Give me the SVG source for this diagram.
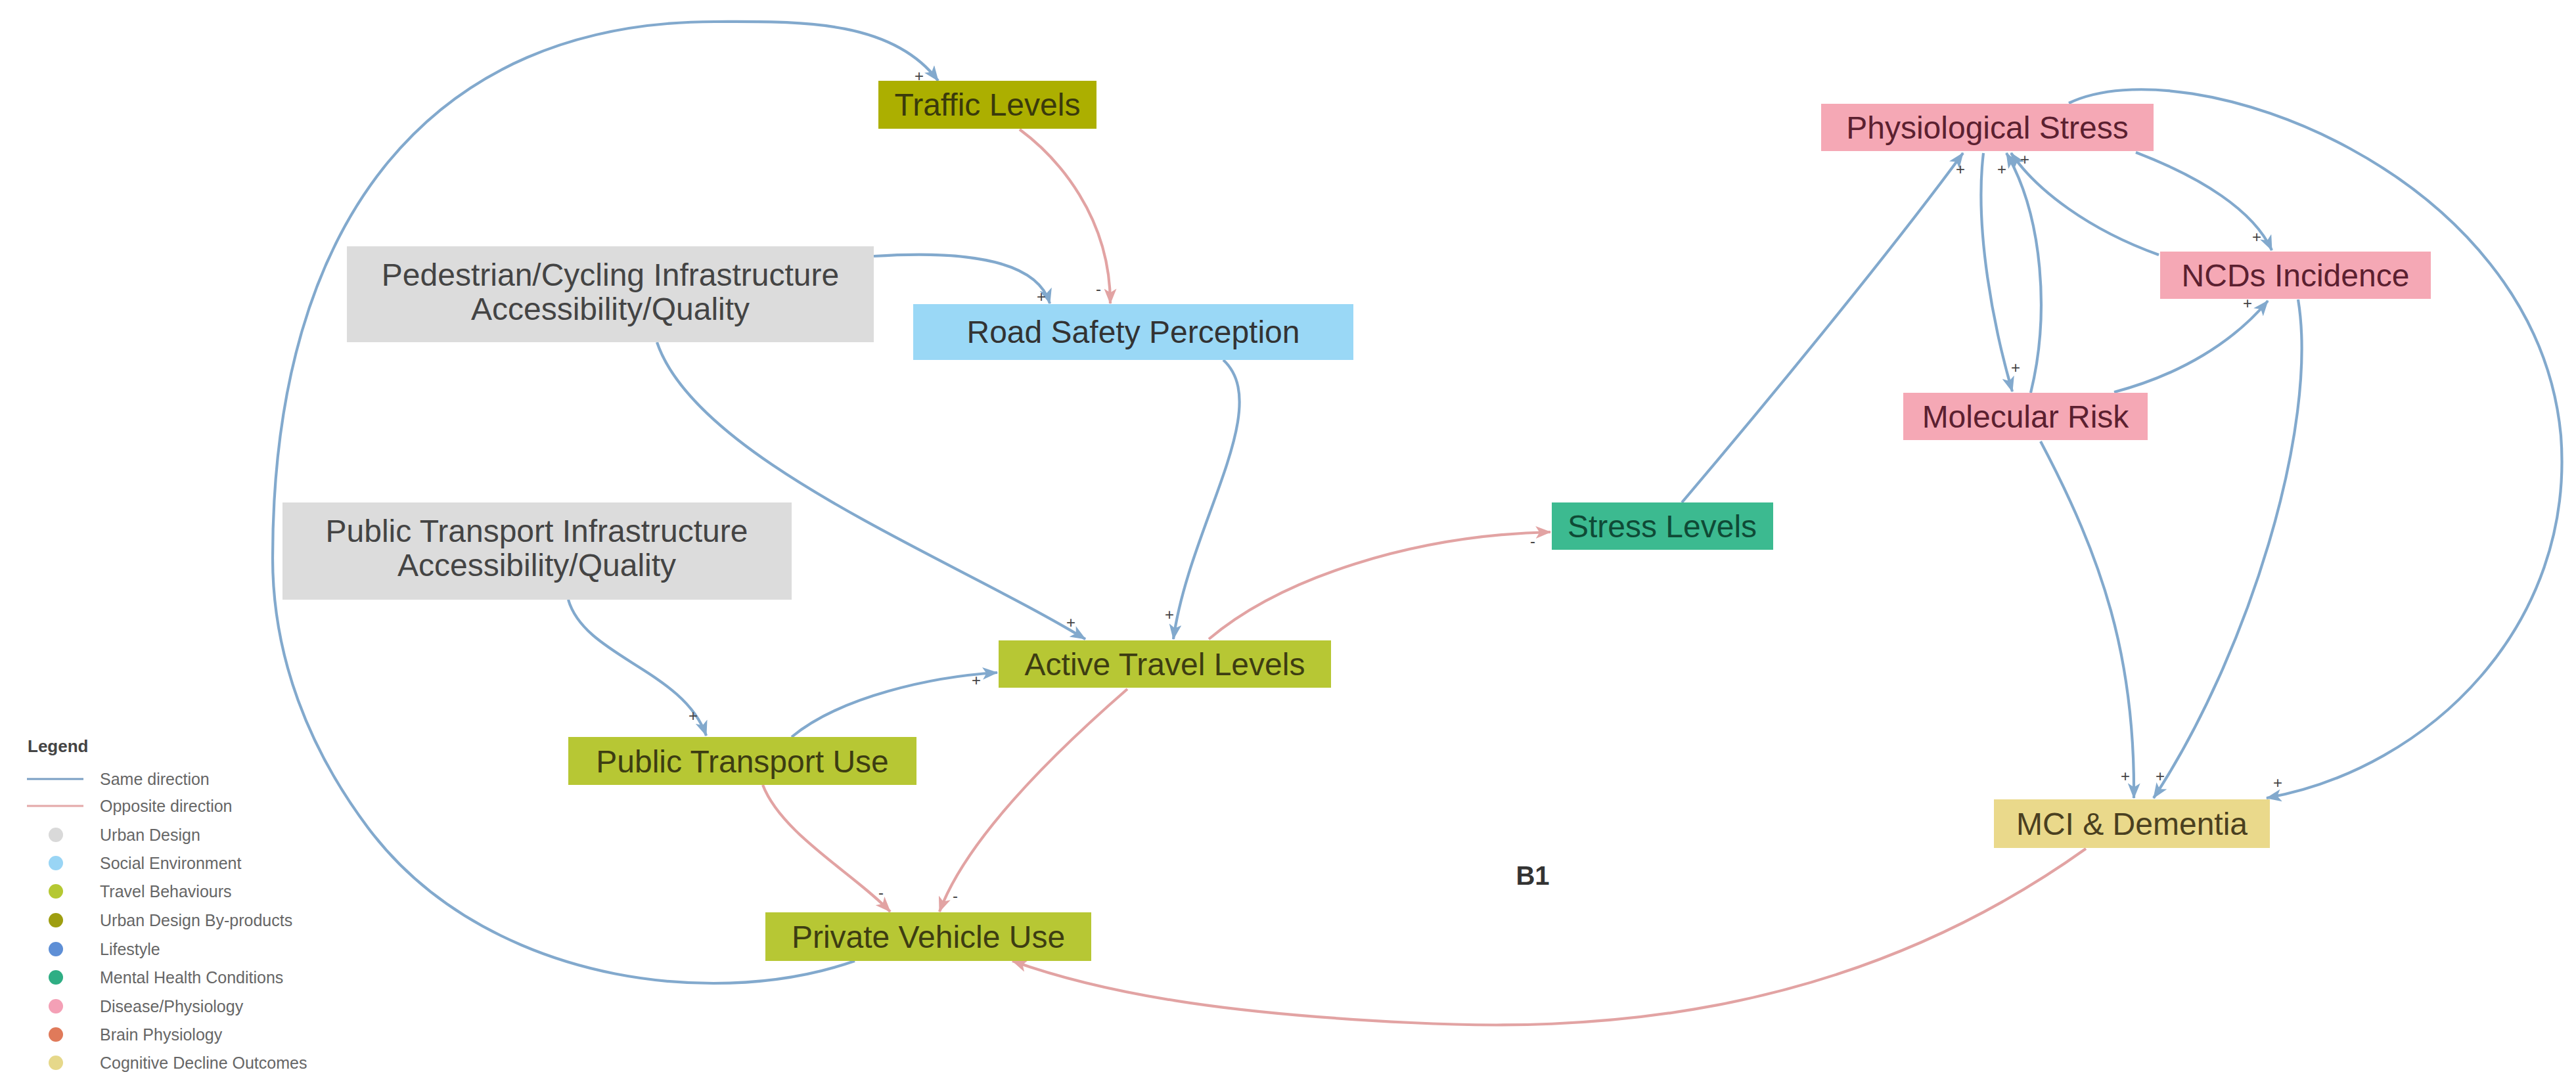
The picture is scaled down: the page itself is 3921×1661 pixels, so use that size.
<svg xmlns="http://www.w3.org/2000/svg" width="3921" height="1661" viewBox="0 0 3921 1661">
<style>
.nt{font-family:"Liberation Sans",Arial,sans-serif;font-size:48px;text-anchor:middle}
.sg{font-family:"Liberation Sans",Arial,sans-serif;font-size:24px;fill:#444;text-anchor:middle}
.lg{font-family:"Liberation Sans",Arial,sans-serif;font-size:25px;fill:#666}
.b{fill:none;stroke:#82a9cd;stroke-width:4.2}
.r{fill:none;stroke:#e2a3a3;stroke-width:4.2}
.tb{fill:#b7c734}
.tbt{fill:#3d3d12}
.pk{fill:#f5a8b5}
.pkt{fill:#5b2030}
.gr{fill:#dcdcdc}
.grt{fill:#444}
</style>
<defs>
<marker id="ab" viewBox="0 0 20 16" refX="19" refY="8" markerWidth="24" markerHeight="19" markerUnits="userSpaceOnUse" orient="auto"><path d="M0,0 L20,8 L0,16 L5,8 z" fill="#82a9cd"/></marker>
<marker id="ar" viewBox="0 0 20 16" refX="19" refY="8" markerWidth="24" markerHeight="19" markerUnits="userSpaceOnUse" orient="auto"><path d="M0,0 L20,8 L0,16 L5,8 z" fill="#e2a3a3"/></marker>
</defs>
<rect width="3921" height="1661" fill="#ffffff"/>

<g id="connectors">
<path class="b" marker-end="url(#ab)" d="M1301,1463 C1232,1487 1159,1497 1086,1497 C886,1497 680,1420 560,1260 C470,1140 415,1000 415,850 C415,330 660,33 1088,33 C1208,33 1356,27 1428,123"/>
<path class="r" marker-end="url(#ar)" d="M1552,197 C1610,240 1690,330 1690,462"/>
<path class="b" marker-end="url(#ab)" d="M1330,390 C1480,380 1580,400 1598,462"/>
<path class="b" marker-end="url(#ab)" d="M1000,521 C1060,700 1450,850 1652,973"/>
<path class="b" marker-end="url(#ab)" d="M1862,548 C1940,620 1810,800 1786,973"/>
<path class="b" marker-end="url(#ab)" d="M865,913 C890,1000 1040,1020 1075,1120"/>
<path class="b" marker-end="url(#ab)" d="M1205,1122 C1280,1060 1420,1030 1518,1024"/>
<path class="r" marker-end="url(#ar)" d="M1716,1049 C1600,1150 1470,1280 1430,1388"/>
<path class="r" marker-end="url(#ar)" d="M1161,1195 C1190,1270 1300,1330 1355,1388"/>
<path class="r" marker-end="url(#ar)" d="M1840,973 C1950,880 2150,815 2360,810"/>
<path class="b" marker-end="url(#ab)" d="M2560,765 C2700,600 2880,380 2988,233"/>
<path class="b" marker-end="url(#ab)" d="M3019,233 C3005,350 3035,500 3063,596"/>
<path class="b" marker-end="url(#ab)" d="M3091,598 C3120,480 3110,330 3054,233"/>
<path class="b" marker-end="url(#ab)" d="M3286,388 C3180,350 3100,290 3061,233"/>
<path class="b" marker-end="url(#ab)" d="M3251,232 C3350,270 3430,320 3458,381"/>
<path class="b" marker-end="url(#ab)" d="M3218,597 C3320,570 3400,520 3452,458"/>
<path class="b" marker-end="url(#ab)" d="M3498,456 C3530,650 3420,1000 3278,1215"/>
<path class="b" marker-end="url(#ab)" d="M3106,672 C3200,850 3250,1000 3248,1215"/>
<path class="b" marker-end="url(#ab)" d="M3149,157 C3330,70 3860,260 3898,663 C3920,950 3700,1170 3450,1215"/>
<path class="r" marker-end="url(#ar)" d="M3175,1292 C2800,1560 2400,1570 2148,1557 C1900,1545 1700,1520 1541,1463"/>
</g>

<g id="signs">
<text class="sg" x="1399" y="124">+</text>
<text class="sg" x="1672" y="448">-</text>
<text class="sg" x="1585" y="460">+</text>
<text class="sg" x="1630" y="956">+</text>
<text class="sg" x="1780" y="944">+</text>
<text class="sg" x="1055" y="1098">+</text>
<text class="sg" x="1486" y="1044">+</text>
<text class="sg" x="1341" y="1367">-</text>
<text class="sg" x="1454" y="1372">-</text>
<text class="sg" x="2333" y="832">-</text>
<text class="sg" x="2984" y="266">+</text>
<text class="sg" x="3047" y="266">+</text>
<text class="sg" x="3082" y="251">+</text>
<text class="sg" x="3068" y="568">+</text>
<text class="sg" x="3435" y="369">+</text>
<text class="sg" x="3421" y="470">+</text>
<text class="sg" x="3235" y="1190">+</text>
<text class="sg" x="3288" y="1190">+</text>
<text class="sg" x="3467" y="1200">+</text>
</g>

<g id="traffic-levels">
<rect x="1337" y="123" width="332" height="73" fill="#acaf00"/>
<text class="nt" x="1503" y="176" fill="#3a3a0c">Traffic Levels</text>
</g>
<g id="ped-cycling-infra">
<rect class="gr" x="528" y="375" width="802" height="146"/>
<text class="nt grt" x="929" y="435">Pedestrian/Cycling Infrastructure</text>
<text class="nt grt" x="929" y="487">Accessibility/Quality</text>
</g>
<g id="road-safety-perception">
<rect x="1390" y="463" width="670" height="85" fill="#9ad8f6"/>
<text class="nt" x="1725" y="522" fill="#333">Road Safety Perception</text>
</g>
<g id="pt-infra">
<rect class="gr" x="430" y="765" width="775" height="148"/>
<text class="nt grt" x="817" y="825">Public Transport Infrastructure</text>
<text class="nt grt" x="817" y="877">Accessibility/Quality</text>
</g>
<g id="active-travel-levels">
<rect class="tb" x="1520" y="975" width="506" height="72"/>
<text class="nt tbt" x="1773" y="1028">Active Travel Levels</text>
</g>
<g id="public-transport-use">
<rect class="tb" x="865" y="1122" width="530" height="73"/>
<text class="nt tbt" x="1130" y="1176">Public Transport Use</text>
</g>
<g id="private-vehicle-use">
<rect class="tb" x="1165" y="1389" width="496" height="74"/>
<text class="nt tbt" x="1413" y="1443">Private Vehicle Use</text>
</g>
<g id="stress-levels">
<rect x="2362" y="765" width="337" height="72" fill="#3cba90"/>
<text class="nt" x="2530" y="818" fill="#0f4a36">Stress Levels</text>
</g>
<g id="physiological-stress">
<rect class="pk" x="2772" y="158" width="506" height="72"/>
<text class="nt pkt" x="3025" y="211">Physiological Stress</text>
</g>
<g id="ncds-incidence">
<rect class="pk" x="3288" y="383" width="412" height="72"/>
<text class="nt pkt" x="3494" y="436">NCDs Incidence</text>
</g>
<g id="molecular-risk">
<rect class="pk" x="2897" y="598" width="372" height="72"/>
<text class="nt pkt" x="3083" y="651">Molecular Risk</text>
</g>
<g id="mci-dementia">
<rect x="3035" y="1217" width="420" height="74" fill="#ead98b"/>
<text class="nt" x="3245" y="1271" fill="#4a4020">MCI &amp; Dementia</text>
</g>

<text x="2333" y="1347" font-family="Liberation Sans, Arial, sans-serif" font-size="40" font-weight="bold" fill="#333" text-anchor="middle">B1</text>

<g id="legend">
<text x="42" y="1145" font-family="Liberation Sans, Arial, sans-serif" font-size="26" font-weight="bold" fill="#444">Legend</text>
<line x1="41" y1="1186" x2="127" y2="1186" stroke="#7a9fc4" stroke-width="3"/>
<text class="lg" x="152" y="1195">Same direction</text>
<line x1="41" y1="1227" x2="127" y2="1227" stroke="#e3a8a8" stroke-width="3"/>
<text class="lg" x="152" y="1236">Opposite direction</text>
<circle cx="85" cy="1271" r="11" fill="#d9d9d9"/>
<text class="lg" x="152" y="1280">Urban Design</text>
<circle cx="85" cy="1314" r="11" fill="#99d5f5"/>
<text class="lg" x="152" y="1323">Social Environment</text>
<circle cx="85" cy="1357" r="11" fill="#b5c832"/>
<text class="lg" x="152" y="1366">Travel Behaviours</text>
<circle cx="85" cy="1401" r="11" fill="#9e9e10"/>
<text class="lg" x="152" y="1410">Urban Design By-products</text>
<circle cx="85" cy="1445" r="11" fill="#5e8fd6"/>
<text class="lg" x="152" y="1454">Lifestyle</text>
<circle cx="85" cy="1488" r="11" fill="#2fae84"/>
<text class="lg" x="152" y="1497">Mental Health Conditions</text>
<circle cx="85" cy="1532" r="11" fill="#f4a0b6"/>
<text class="lg" x="152" y="1541">Disease/Physiology</text>
<circle cx="85" cy="1575" r="11" fill="#e07a5a"/>
<text class="lg" x="152" y="1584">Brain Physiology</text>
<circle cx="85" cy="1618" r="11" fill="#e6d88a"/>
<text class="lg" x="152" y="1627">Cognitive Decline Outcomes</text>
</g>
</svg>
